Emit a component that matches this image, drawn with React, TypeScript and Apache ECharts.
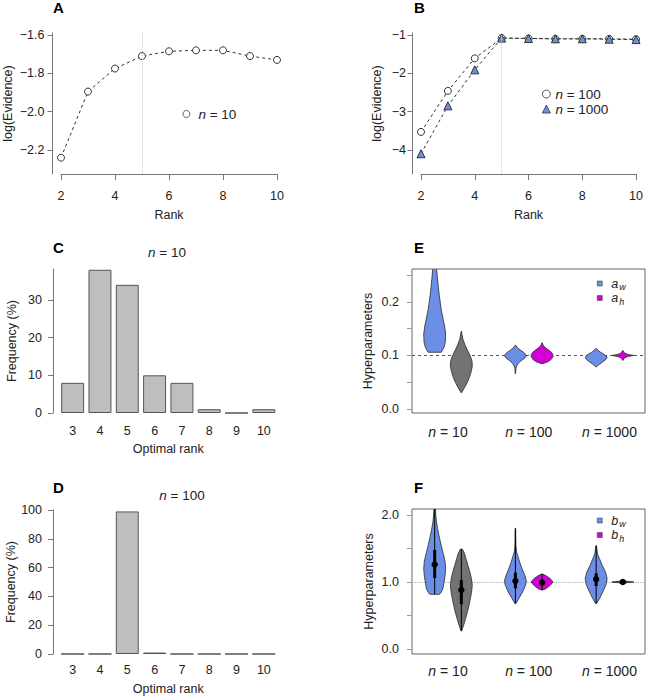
import React, { useEffect, useRef } from "react";
import * as echarts from "echarts";

// ---------- data ----------
const ranks = [2, 3, 4, 5, 6, 7, 8, 9, 10];
const evidenceN10 = [-2.24, -1.895, -1.775, -1.71, -1.685, -1.68, -1.68, -1.71, -1.73];
const evidenceN100 = [-3.53, -2.46, -1.61, -1.08, -1.09, -1.1, -1.1, -1.1, -1.11];
const evidenceN1000 = [-4.1, -2.85, -1.91, -1.08, -1.09, -1.1, -1.1, -1.11, -1.12];
const rankTicks = [2, 4, 6, 8, 10];
const ticksA = [-2.2, -2.0, -1.8, -1.6];
const ticksB = [-4, -3, -2, -1];

const optimalRanks = ["3", "4", "5", "6", "7", "8", "9", "10"];
const freqN10 = [8, 38, 34, 10, 8, 1, 0, 1];
const freqN100 = [0, 0, 99, 1, 0, 0, 0, 0];
const ticksC = [0, 10, 20, 30];
const ticksD = [0, 20, 40, 60, 80, 100];

const groupLabels = ["10", "100", "1000"];
const groupPos = [1, 2, 3];

// violin profiles: [value, relative half width]
const eAw10 = [[0.106, 0.6], [0.115, 0.85], [0.125, 0.97], [0.14, 1.0], [0.155, 0.9], [0.17, 0.75], [0.185, 0.6], [0.2, 0.5], [0.215, 0.4], [0.23, 0.32], [0.245, 0.25], [0.26, 0.18], [0.28, 0.1], [0.3, 0.05]];
const eAw100 = [[0.066, 0.02], [0.075, 0.04], [0.08, 0.1], [0.085, 0.25], [0.09, 0.5], [0.095, 0.85], [0.1, 1.0], [0.105, 0.8], [0.11, 0.45], [0.114, 0.2], [0.119, 0.03]];
const eAw1000 = [[0.079, 0.05], [0.083, 0.25], [0.088, 0.6], [0.093, 0.9], [0.097, 1.0], [0.102, 0.75], [0.106, 0.4], [0.11, 0.15], [0.113, 0.03]];
const eAh10 = [[0.03, 0.0], [0.04, 0.3], [0.05, 0.55], [0.06, 0.75], [0.07, 0.9], [0.08, 1.0], [0.09, 0.97], [0.1, 0.8], [0.11, 0.55], [0.12, 0.33], [0.13, 0.15], [0.14, 0.05], [0.145, 0.02]];
const eAh100 = [[0.085, 0.1], [0.088, 0.5], [0.092, 0.8], [0.097, 0.98], [0.101, 1.0], [0.106, 0.85], [0.11, 0.6], [0.114, 0.35], [0.118, 0.12], [0.1236, 0.02]];
const eAh1000 = [[0.091, 0.03], [0.095, 0.12], [0.098, 0.45], [0.1, 1.0], [0.102, 0.45], [0.105, 0.12], [0.109, 0.03]];

const fBw10 = [[0.816, 0.45], [0.85, 0.6], [0.9, 0.75], [1.0, 0.85], [1.1, 0.95], [1.2, 1.0], [1.3, 0.95], [1.4, 0.82], [1.5, 0.66], [1.6, 0.52], [1.7, 0.38], [1.8, 0.26], [1.9, 0.16], [2.0, 0.1], [2.1, 0.07], [2.3, 0.04]];
const fBw100 = [[0.68, 0.05], [0.75, 0.3], [0.85, 0.65], [0.95, 0.92], [1.02, 1.0], [1.1, 0.85], [1.2, 0.6], [1.3, 0.38], [1.4, 0.2], [1.45, 0.1], [1.55, 0.04], [1.8, 0.02]];
const fBw1000 = [[0.68, 0.05], [0.75, 0.3], [0.85, 0.6], [0.95, 0.88], [1.05, 1.0], [1.15, 0.85], [1.25, 0.55], [1.35, 0.3], [1.42, 0.12], [1.54, 0.03]];
const fBh10 = [[0.27, 0.03], [0.35, 0.2], [0.45, 0.38], [0.55, 0.55], [0.65, 0.7], [0.75, 0.82], [0.85, 0.93], [0.95, 1.0], [1.05, 0.92], [1.15, 0.78], [1.25, 0.6], [1.35, 0.42], [1.42, 0.3], [1.49, 0.1]];
const fBh100 = [[0.88, 0.05], [0.9, 0.35], [0.95, 0.75], [1.0, 1.0], [1.05, 0.75], [1.09, 0.4], [1.12, 0.05]];
const fBh1000 = [[0.975, 0.05], [0.99, 0.4], [1.0, 1.0], [1.01, 0.4], [1.025, 0.05]];

// [whisker low, q1, median, q3, whisker high]
const fBwStats = [[0.816, 1.06, 1.26, 1.48, 2.3], [0.68, 0.905, 1.015, 1.14, 1.8], [0.68, 0.94, 1.04, 1.13, 1.54]];
const fBhStats = [[0.27, 0.667, 0.88, 1.03, 1.49], [0.88, 0.96, 0.99, 1.03, 1.12], [0.975, 0.995, 1.0, 1.005, 1.025]];

const ticksE = [0, 0.1, 0.2];
const minorE = [0, 0.05, 0.1, 0.15, 0.2, 0.25];
const ticksF = [0, 1, 2];
const minorF = [0, 0.5, 1, 1.5, 2];

// ---------- styles ----------
const BLUE = "#6b8fe6";
const MAG = "#d000d6";
const GRAY = "#737373";
const FONT = "Liberation Sans";
const AX = "#777";
const TXT = "#222";
const HALF = 0.136;
const SIDE = 0.165;

const minus = (s: string) => s.replace("-", "\u2212");

function violinRender(profiles: number[][][], colors: string[], stats?: number[][]) {
  return (params: any, api: any) => {
    const i = params.dataIndex;
    const x = api.value(0);
    const prof = profiles[i];
    const left = prof.map(([y, w]) => api.coord([x - w * HALF, y]));
    const right = prof.map(([y, w]) => api.coord([x + w * HALF, y])).reverse();
    const children: any[] = [
      {
        type: "polygon",
        shape: { points: left.concat(right) },
        style: { fill: colors[i], stroke: "#2a2a2a", lineWidth: 0.8 },
      },
    ];
    if (stats) {
      const [lo, q1, med, q3, hi] = stats[i];
      const pLo = api.coord([x, lo]);
      const pHi = api.coord([x, hi]);
      const p1 = api.coord([x, q1]);
      const p3 = api.coord([x, q3]);
      const pm = api.coord([x, med]);
      children.push({ type: "line", shape: { x1: pLo[0], y1: pLo[1], x2: pHi[0], y2: pHi[1] }, style: { stroke: "#000", lineWidth: 1 } });
      children.push({ type: "line", shape: { x1: p1[0], y1: p1[1], x2: p3[0], y2: p3[1] }, style: { stroke: "#000", lineWidth: 3 } });
      children.push({ type: "circle", shape: { cx: pm[0], cy: pm[1], r: 3.2 }, style: { fill: "#000" } });
    }
    return { type: "group", children };
  };
}

const nRich = { i: { fontStyle: "italic", fontSize: 13.5, fontFamily: FONT, color: TXT } };
const nRich14 = { i: { fontStyle: "italic", fontSize: 14, fontFamily: FONT, color: TXT } };
const subRich = {
  i: { fontStyle: "italic", fontSize: 12.5, lineHeight: 16, verticalAlign: "middle", fontFamily: FONT, color: TXT },
  s: { fontStyle: "italic", fontSize: 9, lineHeight: 9, verticalAlign: "bottom", padding: [0, 0, 0, 1], fontFamily: FONT, color: TXT },
};

function lineYAxis(grid: number, min: number, max: number, ticks: number[], gap: number, margin: number, digits: number) {
  return {
    gridIndex: grid,
    type: "value",
    min,
    max,
    offset: 8.5,
    splitLine: { show: false },
    axisLine: { show: true, lineStyle: { color: AX, width: 1 } },
    axisTick: { show: true, customValues: ticks, length: 5, lineStyle: { color: AX } },
    axisLabel: {
      customValues: ticks,
      margin,
      color: TXT,
      fontSize: 12.5,
      formatter: (v: number) => minus(v.toFixed(digits)),
    },
    name: "log(Evidence)",
    nameLocation: "middle",
    nameGap: gap,
    nameTextStyle: { fontSize: 12.5, color: TXT },
  };
}

function rankXAxis(grid: number) {
  return {
    gridIndex: grid,
    type: "value",
    min: 2,
    max: 10,
    splitLine: { show: false },
    axisLine: { show: true, lineStyle: { color: AX } },
    axisTick: { show: true, customValues: rankTicks, length: 6, lineStyle: { color: AX } },
    axisLabel: { customValues: rankTicks, margin: 15, color: TXT, fontSize: 12.5 },
    name: "Rank",
    nameLocation: "middle",
    nameGap: 34,
    nameTextStyle: { fontSize: 12.5, color: TXT },
  };
}

function barXAxis(grid: number, margin: number, gap: number) {
  return {
    gridIndex: grid,
    type: "category",
    data: optimalRanks,
    axisLine: { show: false },
    axisTick: { show: false },
    axisLabel: { margin, color: TXT, fontSize: 12.5 },
    name: "Optimal rank",
    nameLocation: "middle",
    nameGap: gap,
    nameTextStyle: { fontSize: 12.5, color: TXT },
  };
}

function barYAxis(grid: number, max: number, ticks: number[]) {
  return {
    gridIndex: grid,
    type: "value",
    min: 0,
    max,
    offset: 6,
    splitLine: { show: false },
    axisLine: { show: true, lineStyle: { color: AX } },
    axisTick: { show: true, customValues: ticks, length: 5, lineStyle: { color: AX } },
    axisLabel: { customValues: ticks, margin: 11, color: TXT, fontSize: 12.5 },
    name: "Frequency (%)",
    nameLocation: "middle",
    nameGap: 35,
    nameTextStyle: { fontSize: 12.5, color: TXT },
  };
}

function groupXAxis(grid: number, margin: number) {
  return {
    gridIndex: grid,
    type: "value",
    min: 0.554,
    max: 3.44,
    splitLine: { show: false },
    axisLine: { show: false },
    axisTick: { show: false },
    axisLabel: {
      customValues: groupPos,
      margin,
      color: TXT,
      fontSize: 14,
      formatter: (v: number) => "{i|n} = " + groupLabels[Math.round(v) - 1],
      rich: nRich14,
    },
  };
}

function hyperYAxis(grid: number, min: number, max: number, ticks: number[], minor: number[], gap: number) {
  return {
    gridIndex: grid,
    type: "value",
    min,
    max,
    splitLine: { show: false },
    axisLine: { show: false },
    axisTick: { show: true, customValues: minor, length: 5, lineStyle: { color: "#999" } },
    axisLabel: { customValues: ticks, margin: 13, color: TXT, fontSize: 12.5, formatter: (v: number) => v.toFixed(1) },
    name: "Hyperparameters",
    nameLocation: "middle",
    nameGap: gap,
    nameTextStyle: { fontSize: 12.5, color: TXT },
  };
}

const vLine5 = {
  silent: true,
  symbol: ["none", "none"],
  label: { show: false },
  lineStyle: { color: "#c8c8c8", type: "dotted", width: 1 },
  data: [{ xAxis: 5 }],
};

export default function App() {
  const ref = useRef<HTMLDivElement>(null);
  useEffect(() => {
    if (!ref.current) return;
    const chart = echarts.init(ref.current, null, { renderer: "svg" });
    const eAwPos = groupPos.map((g) => g - SIDE);
    const eAhPos = groupPos.map((g) => g + SIDE);
    const option: any = {
      animation: false,
      backgroundColor: "#fff",
      textStyle: { fontFamily: FONT },
      grid: [
        { left: 61, top: 33, width: 216, height: 141 },
        { left: 421, top: 33, width: 216, height: 141 },
        { left: 59, top: 269, width: 218.5, height: 144 },
        { left: 59, top: 510, width: 218.5, height: 144 },
        { left: 412, top: 269, width: 233, height: 144, show: true, borderColor: "#666", borderWidth: 1, backgroundColor: "transparent" },
        { left: 412, top: 509, width: 233, height: 145, show: true, borderColor: "#666", borderWidth: 1, backgroundColor: "transparent" },
      ],
      xAxis: [rankXAxis(0), rankXAxis(1), barXAxis(2, 11, 29), barXAxis(3, 9, 28), groupXAxis(4, 12), groupXAxis(5, 10)],
      yAxis: [
        lineYAxis(0, -2.325, -1.5896, ticksA, 38, 8, 1),
        lineYAxis(1, -4.629, -0.948, ticksB, 29.5, 6.5, 0),
        barYAxis(2, 38.2, ticksC),
        barYAxis(3, 100, ticksD),
        hyperYAxis(4, -0.00746, 0.2615, ticksE, minorE, 38),
        hyperYAxis(5, -0.0746, 2.0896, ticksF, minorF, 37),
      ],
      legend: [
        {
          left: 177.5, top: 102, itemWidth: 7, itemHeight: 7,
          data: [{ name: "n = 10", icon: "circle" }],
          itemStyle: { borderWidth: 0.8 },
          formatter: (n: string) => "{i|n}" + n.slice(1),
          textStyle: { fontSize: 13.5, color: TXT, lineHeight: 14, padding: [0, 0, 0, 3.5], rich: nRich },
        },
        {
          left: 537, top: 82, orient: "vertical", itemWidth: 8, itemHeight: 8, itemGap: 1,
          data: [{ name: "n = 100", icon: "circle" }, { name: "n = 1000", icon: "triangle" }],
          itemStyle: { borderWidth: 0.8 },
          formatter: (n: string) => "{i|n}" + n.slice(1),
          textStyle: { fontSize: 13.5, color: TXT, lineHeight: 14, rich: nRich },
        },
        {
          left: 592, top: 272, orient: "vertical", itemWidth: 5, itemHeight: 5, itemGap: 0,
          data: [{ name: "a_w", icon: "rect" }, { name: "a_h", icon: "rect" }],
          itemStyle: { borderWidth: 0.5 },
          formatter: (n: string) => "{i|" + n[0] + "}{s|" + n[2] + "}",
          textStyle: { color: TXT, padding: [0, 0, 0, 4], rich: subRich },
        },
        {
          left: 592, top: 509, orient: "vertical", itemWidth: 5, itemHeight: 5, itemGap: 0,
          data: [{ name: "b_w", icon: "rect" }, { name: "b_h", icon: "rect" }],
          itemStyle: { borderWidth: 0.5 },
          formatter: (n: string) => "{i|" + n[0] + "}{s|" + n[2] + "}",
          textStyle: { color: TXT, padding: [0, 0, 0, 4], rich: subRich },
        },
      ],
      graphic: [
        { type: "text", x: 53, y: 7, style: { text: "A", font: `bold 15px "${FONT}"`, fill: "#000", verticalAlign: "middle" } },
        { type: "text", x: 414, y: 7, style: { text: "B", font: `bold 15px "${FONT}"`, fill: "#000", verticalAlign: "middle" } },
        { type: "text", x: 53, y: 247, style: { text: "C", font: `bold 15px "${FONT}"`, fill: "#000", verticalAlign: "middle" } },
        { type: "text", x: 414, y: 247, style: { text: "E", font: `bold 15px "${FONT}"`, fill: "#000", verticalAlign: "middle" } },
        { type: "text", x: 53, y: 487, style: { text: "D", font: `bold 15px "${FONT}"`, fill: "#000", verticalAlign: "middle" } },
        { type: "text", x: 414, y: 487, style: { text: "F", font: `bold 15px "${FONT}"`, fill: "#000", verticalAlign: "middle" } },
        { type: "text", x: 167, y: 252, style: { text: "{i|n} = 10", rich: nRich, font: `13.5px "${FONT}"`, fill: TXT, align: "center", verticalAlign: "middle" } },
        { type: "text", x: 182, y: 495, style: { text: "{i|n} = 100", rich: nRich, font: `13.5px "${FONT}"`, fill: TXT, align: "center", verticalAlign: "middle" } },
      ],
      series: [
        {
          name: "n = 10", type: "line", xAxisIndex: 0, yAxisIndex: 0, clip: false,
          data: ranks.map((r, i) => [r, evidenceN10[i]]),
          symbol: "circle", symbolSize: 7,
          itemStyle: { color: "#fff", borderColor: "#333", borderWidth: 1 },
          lineStyle: { color: "#333", width: 1, type: [3, 3] },
          markLine: vLine5, z: 3,
        },
        {
          name: "n = 100", type: "line", xAxisIndex: 1, yAxisIndex: 1, clip: false,
          data: ranks.map((r, i) => [r, evidenceN100[i]]),
          symbol: "circle", symbolSize: 7,
          itemStyle: { color: "#fff", borderColor: "#333", borderWidth: 1 },
          lineStyle: { color: "#333", width: 1, type: [3, 3] },
          markLine: vLine5, z: 3,
        },
        {
          name: "n = 1000", type: "line", xAxisIndex: 1, yAxisIndex: 1, clip: false,
          data: ranks.map((r, i) => [r, evidenceN1000[i]]),
          symbol: "triangle", symbolSize: 8,
          itemStyle: { color: "#6f8fd8", borderColor: "#333", borderWidth: 1 },
          lineStyle: { color: "#333", width: 1, type: [3, 3] }, z: 4,
        },
        {
          name: "freq10", type: "bar", xAxisIndex: 2, yAxisIndex: 2, data: freqN10, barCategoryGap: "16%",
          itemStyle: { color: "#bebebe", borderColor: "#555", borderWidth: 1 },
        },
        {
          name: "freq100", type: "bar", xAxisIndex: 3, yAxisIndex: 3, data: freqN100, barCategoryGap: "16%",
          itemStyle: { color: "#bebebe", borderColor: "#555", borderWidth: 1 },
        },
        {
          name: "refE", type: "line", xAxisIndex: 4, yAxisIndex: 4, data: [], z: 1,
          markLine: { silent: true, symbol: ["none", "none"], label: { show: false }, z: 1, lineStyle: { color: "#555", type: [3, 3], width: 1 }, data: [{ yAxis: 0.1 }] },
        },
        {
          name: "a_w", type: "custom", xAxisIndex: 4, yAxisIndex: 4, clip: true, z: 3,
          itemStyle: { color: BLUE, borderColor: "#333", borderWidth: 0.8 },
          data: eAwPos.map((x, i) => [x, [eAw10, eAw100, eAw1000][i][0][0]]),
          renderItem: violinRender([eAw10, eAw100, eAw1000], [BLUE, BLUE, BLUE]),
        },
        {
          name: "a_h", type: "custom", xAxisIndex: 4, yAxisIndex: 4, clip: true, z: 3,
          itemStyle: { color: MAG, borderColor: "#333", borderWidth: 0.8 },
          data: eAhPos.map((x, i) => [x, [eAh10, eAh100, eAh1000][i][0][0]]),
          renderItem: violinRender([eAh10, eAh100, eAh1000], [GRAY, MAG, MAG]),
        },
        {
          name: "refF", type: "line", xAxisIndex: 5, yAxisIndex: 5, data: [], z: 1,
          markLine: { silent: true, symbol: ["none", "none"], label: { show: false }, z: 1, lineStyle: { color: "#aaa", type: "dotted", width: 1.2 }, data: [{ yAxis: 1 }] },
        },
        {
          name: "b_w", type: "custom", xAxisIndex: 5, yAxisIndex: 5, clip: true, z: 3,
          itemStyle: { color: BLUE, borderColor: "#333", borderWidth: 0.8 },
          data: eAwPos.map((x, i) => [x, fBwStats[i][2]]),
          renderItem: violinRender([fBw10, fBw100, fBw1000], [BLUE, BLUE, BLUE], fBwStats),
        },
        {
          name: "b_h", type: "custom", xAxisIndex: 5, yAxisIndex: 5, clip: true, z: 3,
          itemStyle: { color: MAG, borderColor: "#333", borderWidth: 0.8 },
          data: eAhPos.map((x, i) => [x, fBhStats[i][2]]),
          renderItem: violinRender([fBh10, fBh100, fBh1000], [GRAY, MAG, MAG], fBhStats),
        },
      ],
    };
    chart.setOption(option);
    return () => chart.dispose();
  }, []);
  return <div ref={ref} style={{ position: "absolute", left: 0, top: 0, width: 646, height: 697 }} />;
}
